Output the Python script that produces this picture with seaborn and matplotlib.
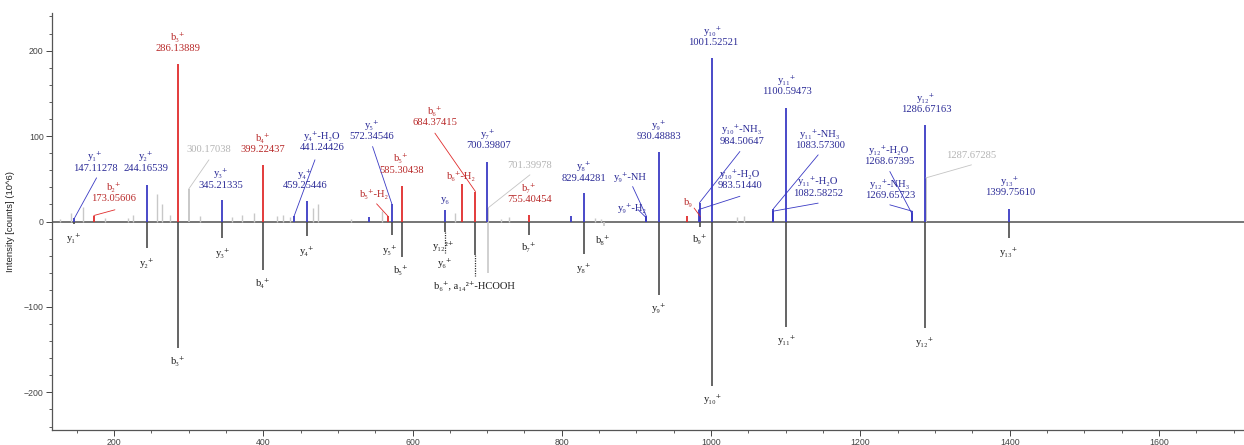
''' Annotated MS/MS spectrum with mirrored theoretical fragments
'''

import matplotlib
matplotlib.use("Agg")
import matplotlib.pyplot as plt
from matplotlib.ticker import MultipleLocator
import seaborn as sns

# measured spectrum: peaks that carry an assignment (y / b / unassigned)
peak_mz = [147.11278, 173.05606, 244.16539, 286.13889, 300.17038, 345.21335,
           399.22437, 441.24426, 459.25446, 541.6, 567.29, 572.34546,
           585.30438, 643.38, 666.36, 684.37415, 700.39807, 701.39978,
           755.40454, 811.9, 829.44281, 912.46, 913.46, 930.48883, 967.5,
           983.51440, 984.50647, 985.5, 1001.52521, 1082.58252, 1083.57300,
           1100.59473, 1268.67395, 1269.65723, 1286.67163, 1287.67285,
           1399.75610]
peak_int = [4, 7, 43, 184, 38, 25, 66, 6, 24, 5, 6, 20.5, 41, 13, 44, 35, 70,
            16, 8, 6, 33, 5, 6, 81, 6, 14, 22, 6, 191, 12, 15, 133, 10, 12,
            113, 51, 14.5]
peak_ion = ["y", "b", "y", "b", "u", "y", "b", "y", "y", "y", "b", "y", "b",
            "y", "b", "b", "y", "u", "b", "y", "y", "y", "y", "y", "b", "y",
            "y", "b", "y", "y", "y", "y", "y", "y", "y", "u", "y"]

# measured spectrum: small unassigned peaks
noise_mz = [127.7, 142, 159, 188, 219, 226, 258, 264, 275, 315, 357.6, 371,
            387.5, 418, 426, 435.8, 467, 473.7, 518, 558.6, 656.8, 719, 729,
            844, 853, 1035, 1044]
noise_int = [3, 10, 17, 4, 4, 8, 32, 20, 8, 6, 5, 8, 10, 6, 8, 5, 16, 21, 3,
             12, 10, 3, 5, 4, 3, 5, 6]

# mirrored (reference) spectrum
mirror_mz = [147.11, 244.17, 286.14, 345.21, 399.22, 459.25, 572.35, 585.30,
             643.38, 684.37, 701.40, 755.40, 829.44, 856.45, 930.49, 985.5,
             1001.53, 1100.59, 1286.67, 1399.76]
mirror_int = [-3, -31, -148, -19, -56.5, -17.5, -15.5, -41, -12, -39, -60,
              -15.5, -38, -5, -86, -6, -193, -124, -125, -19.5]
mirror_faint = [701.40, 856.45]
# dotted continuation for ambiguous assignments
dotted_mz = [643.38, 684.37]
dotted_int = [-37, -64]

# labels of the measured spectrum
pos_text = ["y₁⁺\n147.11278", "b₂⁺\n173.05606", "y₂⁺\n244.16539",
            "b₃⁺\n286.13889", "300.17038", "y₃⁺\n345.21335",
            "b₄⁺\n399.22437", "y₄⁺-H₂O\n441.24426", "y₄⁺\n459.25446",
            "y₅⁺\n572.34546", "b₅⁺\n585.30438", "b₅⁺-H₂", "y₆", "b₆⁺-H₂",
            "b₆⁺\n684.37415", "y₇⁺\n700.39807", "701.39978",
            "b₇⁺\n755.40454", "y₈⁺\n829.44281", "y₉⁺-NH", "y₉⁺-H₂",
            "y₉⁺\n930.48883", "b₉", "y₁₀⁺-NH₃\n984.50647",
            "y₁₀⁺-H₂O\n983.51440", "y₁₀⁺\n1001.52521",
            "y₁₁⁺-NH₃\n1083.57300", "y₁₁⁺-H₂O\n1082.58252",
            "y₁₁⁺\n1100.59473", "y₁₂⁺-H₂O\n1268.67395",
            "y₁₂⁺-NH₃\n1269.65723", "y₁₂⁺\n1286.67163", "1287.67285",
            "y₁₃⁺\n1399.75610"]
pos_ion = ["y", "b", "y", "b", "u", "y", "b", "y", "y", "y", "b", "b", "y",
           "b", "b", "y", "u", "b", "y", "y", "y", "y", "b", "y", "y", "y",
           "y", "y", "y", "y", "y", "y", "u", "y"]
pos_x = [174.5, 199.6, 242.5, 286.1, 327.7, 343.7, 400, 478.6, 455.9, 545.2,
         585.4, 549.6, 643.4, 665.8, 630, 701.4, 757.3, 756.3, 830, 892.2,
         894.2, 930.5, 969.3, 1040.8, 1038.6, 1002.8, 1145.8, 1143.5, 1101.1,
         1238.6, 1239.5, 1287.8, 1348.9, 1400.3]
pos_y = [69.6, 33.7, 69.6, 209.6, 83.9, 49.7, 91.7, 93.2, 49.4, 106.9, 67.3,
         32.4, 25.4, 53.8, 122.5, 95.9, 65.1, 32.5, 57.9, 52.6, 16, 106.4,
         22.2, 101.2, 48.8, 216.8, 96.4, 40.4, 158.9, 77.4, 37.4, 138.5, 76.8,
         40.9]
# leader lines: start point and the peak they point to (None = no leader)
lead_x = [176.7, 201.3, None, None, 327.3, None, None, 469.3, None, 546.5,
          None, 551.9, None, None, 630, None, 757.3, None, None, 894.9, 902,
          None, 977.3, 1038.6, 1038.6, None, 1143.5, 1143.5, None, 1239.5,
          1239.5, None, 1348.9, None]
lead_y = [51.1, 13.7, None, None, 72.2, None, None, 72.2, None, 87.7, None,
          20.7, None, None, 103.4, None, 54.6, None, None, 40.9, 14, None,
          15.7, 81.9, 29.5, None, 78, 21.5, None, 58.5, 19.5, None, 66.3, None]
lead_peak = [147.11278, 173.05606, None, None, 300.17038, None, None,
             441.24426, None, 572.34546, None, 567.29, None, None, 684.37415,
             None, 701.39978, None, None, 913.46, 912.46, None, 985.5,
             984.50647, 983.51440, None, 1083.57300, 1082.58252, None,
             1268.67395, 1269.65723, None, 1287.67285, None]

# labels of the mirrored spectrum
neg_text = ["y₁⁺", "y₂⁺", "b₃⁺", "y₃⁺", "b₄⁺", "y₄⁺", "y₅⁺", "b₅⁺", "y₁₂²⁺",
            "y₆⁺", "b₆⁺, a₁₄²⁺-HCOOH", "b₇⁺", "y₈⁺", "b₈⁺", "y₉⁺", "b₉⁺",
            "y₁₀⁺", "y₁₁⁺", "y₁₂⁺", "y₁₃⁺"]
neg_x = [146.4, 243.8, 286.1, 345.6, 400, 458.1, 570.5, 585.4, 642.1, 643.4,
         683.6, 755.9, 830, 855.5, 930.5, 985, 1002, 1101.1, 1286.4, 1399.4]
neg_y = [-19.1, -48, -162.9, -36.3, -72, -35.1, -33.1, -56.5, -29.2, -48.7,
         -74.9, -30.4, -54.5, -21.4, -101.3, -20.2, -207.7, -138.7, -141,
         -35.8]

line_col = {"y": "#3a3ac4", "b": "#e02c2c", "u": "#c4c4c4"}
text_col = {"y": "#2a2a96", "b": "#b82828", "u": "#b4b4b4"}
SERIF = ["Liberation Serif", "DejaVu Serif"]


def main():
    sns.set_theme(style="ticks")
    plt.rcParams["font.family"] = ["Liberation Sans", "DejaVu Sans"]

    fig = plt.figure(figsize=(12.44, 4.45), dpi=100)
    ax = fig.add_axes([52 / 1244, 15 / 445, 1192 / 1244, 417 / 445])

    ax.axhline(0, color="#6a6a6a", lw=1.3, zorder=1)

    # measured spectrum
    ax.vlines(noise_mz, 0, noise_int, color="#c8c8c8", lw=1.0, zorder=2)
    for kind, z in (("u", 2), ("b", 3), ("y", 4)):
        xs = [m for m, k in zip(peak_mz, peak_ion) if k == kind]
        ys = [i for i, k in zip(peak_int, peak_ion) if k == kind]
        ax.vlines(xs, 0, ys, color=line_col[kind], lw=1.3, zorder=z)

    # mirrored spectrum
    for m, i in zip(mirror_mz, mirror_int):
        col = "#c8c8c8" if m in mirror_faint else "#4a4a4a"
        ax.vlines(m, 0, i, color=col, lw=1.2, zorder=2)
    for m, i in zip(dotted_mz, dotted_int):
        start = mirror_int[mirror_mz.index(m)]
        ax.vlines(m, start, i, color="#303030", lw=0.9, linestyles=(0, (1, 1)),
                  zorder=2)

    # annotations of the measured spectrum
    peak_top = dict(zip(peak_mz, peak_int))
    for txt, kind, x, y, lx, ly, lp in zip(pos_text, pos_ion, pos_x, pos_y,
                                           lead_x, lead_y, lead_peak):
        ax.text(x, y, txt, ha="center", va="center", fontsize=7.6,
                family=SERIF, color=text_col[kind], linespacing=1.3, zorder=5)
        if lp is not None:
            ax.plot([lx, lp], [ly, peak_top[lp]], color=line_col[kind],
                    lw=0.6, zorder=4)

    for txt, x, y in zip(neg_text, neg_x, neg_y):
        ax.text(x, y, txt, ha="center", va="center", fontsize=7.6,
                family=SERIF, color="#222222", zorder=5)

    ax.set_xlim(117, 1714)
    ax.set_ylim(-244, 244)
    ax.set_xticks(range(200, 1601, 200))
    ax.set_yticks([-200, -100, 0, 100, 200])
    ax.xaxis.set_minor_locator(MultipleLocator(50))
    ax.yaxis.set_minor_locator(MultipleLocator(20))
    ax.tick_params(which="major", direction="out", length=4, width=0.7,
                   labelsize=6.3, pad=2, colors="#444444")
    ax.tick_params(which="minor", direction="out", length=2.5, width=0.6,
                   colors="#444444")
    ax.set_ylabel("Intensity [counts] (10^6)", fontsize=6.8, color="#222222")
    ax.yaxis.set_label_coords(-37 / 1192, 0.5)

    sns.despine(ax=ax)
    for side in ("left", "bottom"):
        ax.spines[side].set_color("#555555")
        ax.spines[side].set_linewidth(0.9)

    fig.savefig("out.png", dpi=100)
    plt.close(fig)


if __name__ == "__main__":
    main()
